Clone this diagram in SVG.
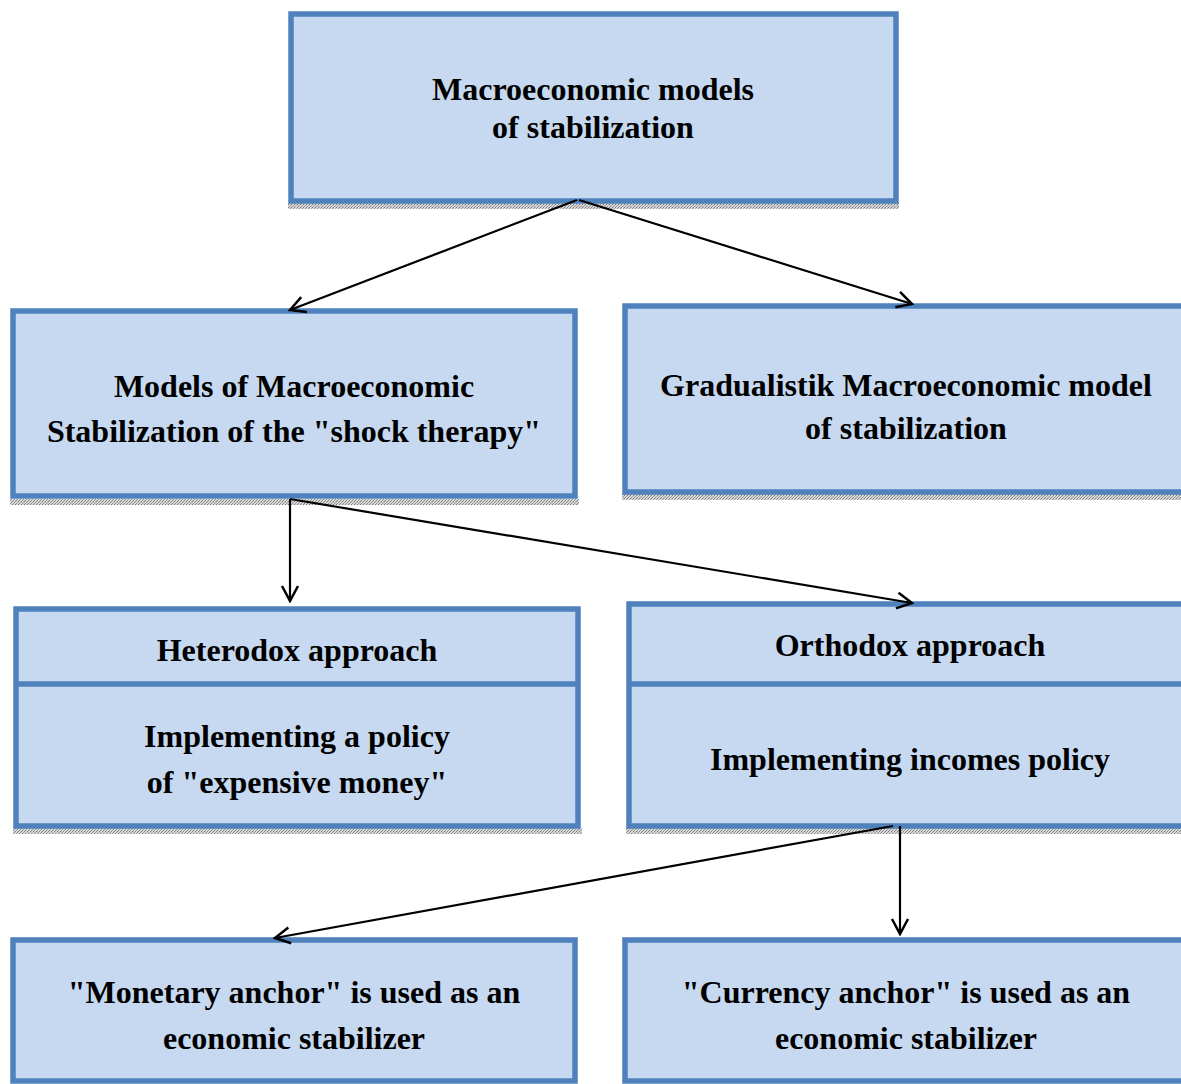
<svg xmlns="http://www.w3.org/2000/svg" width="1181" height="1084" viewBox="0 0 1181 1084">
<defs>
<pattern id="dots" width="3" height="3" patternUnits="userSpaceOnUse">
<rect width="3" height="3" fill="#d8d8d8"/>
<rect width="1" height="1" fill="#7a7a7a"/>
<rect x="2" y="1" width="1" height="1" fill="#9a9a9a"/>
<rect x="1" y="2" width="1" height="1" fill="#8a8a8a"/>
</pattern>
<marker id="arr" viewBox="0 0 20 20" refX="18" refY="10" markerWidth="20" markerHeight="20" markerUnits="userSpaceOnUse" orient="auto">
<path d="M3,2 L18,10 L3,18" fill="none" stroke="#000" stroke-width="2.5"/>
</marker>
</defs>
<style>
.box{fill:#c6d9f0;stroke:#4f81bd;stroke-width:5.5}
.div{stroke:#4f81bd;stroke-width:5.5}
.sh{fill:url(#dots)}
.t{font-family:"Liberation Serif","Times New Roman",serif;font-weight:bold;font-size:32px;fill:#000;text-anchor:middle}
.c{stroke:#000;stroke-width:2.2;fill:none;marker-end:url(#arr)}
</style>
<rect width="1181" height="1084" fill="#fff"/>
<g id="top">
<rect class="sh" x="288" y="203" width="611" height="6"/>
<rect class="box" x="291" y="14" width="605" height="187"/>
<text class="t" x="593" y="100">Macroeconomic models</text>
<text class="t" x="593" y="138">of stabilization</text>
</g>
<g id="shock">
<rect class="sh" x="10" y="499" width="569" height="6"/>
<rect class="box" x="13" y="311" width="562" height="185"/>
<text class="t" x="294" y="397">Models of Macroeconomic</text>
<text class="t" x="294" y="442">Stabilization of the "shock therapy"</text>
</g>
<g id="gradual">
<rect class="sh" x="622" y="494" width="570" height="6"/>
<rect class="box" x="625" y="306" width="570" height="186"/>
<text class="t" x="906" y="396">Gradualistik Macroeconomic model</text>
<text class="t" x="906" y="439">of stabilization</text>
</g>
<g id="heterodox">
<rect class="sh" x="13" y="828" width="569" height="6"/>
<rect class="box" x="16" y="609" width="562" height="217"/>
<line class="div" x1="16" y1="684" x2="578" y2="684"/>
<text class="t" x="297" y="661">Heterodox approach</text>
<text class="t" x="297" y="747">Implementing a policy</text>
<text class="t" x="297" y="793">of "expensive money"</text>
</g>
<g id="orthodox">
<rect class="sh" x="626" y="828" width="570" height="6"/>
<rect class="box" x="629" y="604" width="570" height="222"/>
<line class="div" x1="629" y1="684" x2="1199" y2="684"/>
<text class="t" x="910" y="656">Orthodox approach</text>
<text class="t" x="910" y="770">Implementing incomes policy</text>
</g>
<g id="monetary">
<rect class="box" x="13" y="940" width="562" height="141"/>
<text class="t" x="294" y="1003">"Monetary anchor" is used as an</text>
<text class="t" x="294" y="1049">economic stabilizer</text>
</g>
<g id="currency">
<rect class="box" x="625" y="940" width="570" height="141"/>
<text class="t" x="906" y="1003">"Currency anchor" is used as an</text>
<text class="t" x="906" y="1049">economic stabilizer</text>
</g>
<g id="connectors">
<path class="c" d="M577,200 L290,310"/>
<path class="c" d="M579,200 L912,304"/>
<path class="c" d="M290,499 L290,601"/>
<path class="c" d="M290,499 L912,603"/>
<path class="c" d="M893,826 L275,938"/>
<path class="c" d="M900,826 L900,934"/>
</g>
</svg>
